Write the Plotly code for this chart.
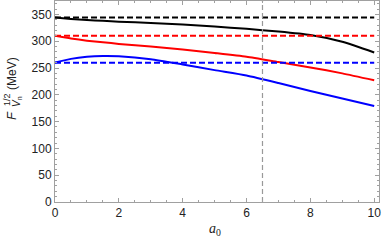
import plotly.graph_objects as go

# ---- data ----
a0 = [0, 0.5, 1, 1.5, 2, 3, 4, 5, 6, 7, 8, 9, 10]
black_solid = [344, 341.5, 339.5, 338, 336.5, 334, 331, 327.5, 323, 318, 311.5, 299, 279]
red_solid = [310, 305, 301, 298, 295, 290, 284.5, 278, 271, 261, 251, 240, 227]
blue_solid = [260, 267, 271, 272.5, 272, 266.5, 256.5, 246, 236, 222, 207, 193, 179]
black_const = 344
red_const = 310
blue_const = 260
vline_x = 6.5
x_range = [0, 10.15]
y_range = [0, 375]
x_ticks = [0, 2, 4, 6, 8, 10]
y_ticks = [0, 50, 100, 150, 200, 250, 300, 350]

W, H = 382, 245
L, R, T, B = 55, 3, 1, 43
pw, ph = W - L - R, H - T - B


def px(x):
    return (x - L) / pw


def py(y):
    return (H - B - y) / ph


fig = go.Figure()
for ys, c in [(black_solid, "black"), (red_solid, "#ff0000"), (blue_solid, "#0000ff")]:
    fig.add_trace(go.Scatter(x=a0, y=ys, mode="lines", line=dict(color=c, width=2, shape="spline", smoothing=0.6),
                             showlegend=False, hoverinfo="skip"))
for v, c in [(black_const, "black"), (red_const, "#ff0000"), (blue_const, "#0000ff")]:
    fig.add_trace(go.Scatter(x=[a0[0], a0[-1]], y=[v, v], mode="lines",
                             line=dict(color=c, width=2, dash="6px,3px"), showlegend=False, hoverinfo="skip"))
fig.add_trace(go.Scatter(x=[vline_x, vline_x], y=y_range, mode="lines",
                         line=dict(color="#999999", width=1.2, dash="5px,3px"), showlegend=False, hoverinfo="skip"))

axis_common = dict(showline=True, linecolor="#a0a0a0", linewidth=1, mirror="ticks", ticks="inside",
                   ticklen=4, tickcolor="#a0a0a0", showgrid=False, zeroline=False, automargin=False,
                   ticklabeloverflow="allow",
                   tickfont=dict(family="Liberation Sans", size=12, color="#222222"))
fig.update_xaxes(range=x_range, tickvals=x_ticks, minor=dict(ticks="inside", dtick=0.5, ticklen=2, tickcolor="#a0a0a0"),
                 **axis_common)
fig.update_yaxes(range=y_range, tickvals=y_ticks, minor=dict(ticks="inside", dtick=10, ticklen=2, tickcolor="#a0a0a0"),
                 **axis_common)

ann = [
    dict(text="<i>a</i><sub>0</sub>", x=px(215), y=py(229), font=dict(family="Liberation Serif", size=14, color="#222222"), textangle=0),
    dict(text="<i>F</i>", x=px(12), y=py(116), font=dict(family="Liberation Sans", size=13, color="#222222"), textangle=-90),
    dict(text="1/2", x=px(7), y=py(100), font=dict(family="Liberation Sans", size=9, color="#222222"), textangle=-90),
    dict(text="<i>V</i><sub>n</sub>", x=px(17), y=py(102), font=dict(family="Liberation Sans", size=10, color="#222222"), textangle=-90),
    dict(text="(MeV)", x=px(12), y=py(74), font=dict(family="Liberation Sans", size=12, color="#222222"), textangle=-90),
]
for a in ann:
    a.update(xref="paper", yref="paper", showarrow=False, xanchor="center", yanchor="middle")
fig.update_layout(width=W, height=H, margin=dict(l=L, r=R, t=T, b=B), plot_bgcolor="white",
                  paper_bgcolor="white", annotations=ann, hovermode=False)
fig.write_html("out.html", config={"displayModeBar": False, "staticPlot": True},
               post_script="document.body.style.margin='0';document.body.style.overflow='hidden';")
